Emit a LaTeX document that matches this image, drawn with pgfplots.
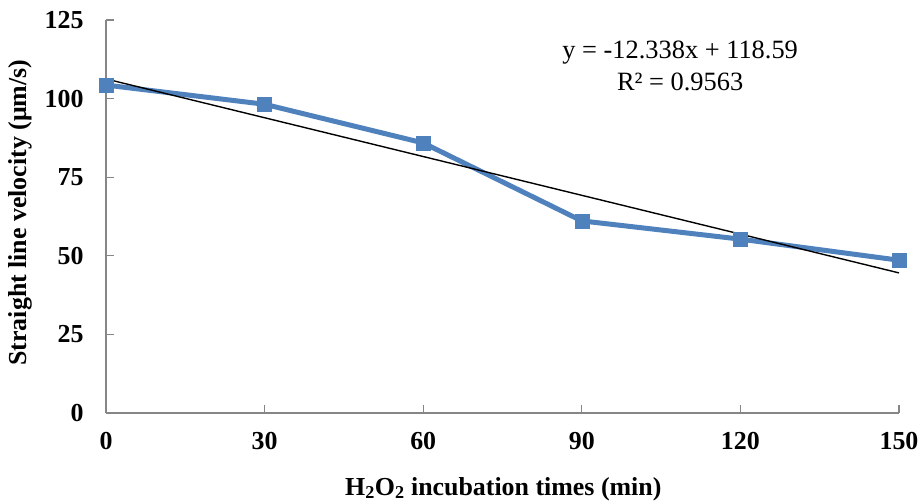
\documentclass[border=0pt]{standalone}
\usepackage{pgfplots}
\pgfplotsset{compat=1.18}
\usepackage{fontspec}
\setmainfont{Liberation Serif}
\definecolor{serblue}{HTML}{4F81BD}
\definecolor{axgray}{HTML}{868686}
\begin{document}
\begin{tikzpicture}
\begin{axis}[
  at={(0,0)}, anchor=south west,
  scale only axis, width=793bp, height=393bp,
  xmin=0, xmax=150, ymin=0, ymax=125,
  xtick={0,30,60,90,120,150},
  ytick={0,25,50,75,100,125},
  axis x line*=bottom, axis y line*=left,
  axis line style={axgray, line width=1.3bp, -},
  tick style={axgray, line width=1.3bp},
  tick align=inside, major tick length=8bp,
  /pgf/number format/assume math mode=true,
  ticklabel style={font=\fontsize{26}{30}\selectfont\bfseries},
  yticklabel style={xshift=-19bp},
  xticklabel style={yshift=-16bp},
  xlabel={H\textsubscript{2}O\textsubscript{2} incubation times (min)},
  ylabel={Straight line velocity (μm/s)},
  label style={font=\fontsize{26}{30}\selectfont\bfseries},
  xlabel style={at={(axis description cs:0.501,-0.2087)}, anchor=base},
  ylabel style={at={(axis description cs:-0.1084,0.51)}, anchor=center, rotate=0},
  clip=false,
]
\addplot[serblue, line width=5bp, mark=square*, mark size=7bp, mark options={fill=serblue, draw=serblue, line width=0.5bp}]
  coordinates {(0,104.3) (30,98.2) (60,85.9) (90,61.1) (120,55.3) (150,48.6)};
\addplot[black, line width=1.4bp] coordinates {(0,106.25) (150,44.56)};
\node[font=\fontsize{26.5}{32}\selectfont, align=center, inner sep=0pt] at (axis cs:108.6,110.4) {y = -12.338x + 118.59\\R² = 0.9563};
\end{axis}
\pgfresetboundingbox
\path (-106bp,-89bp) rectangle (817bp,413bp);
\end{tikzpicture}
\end{document}
